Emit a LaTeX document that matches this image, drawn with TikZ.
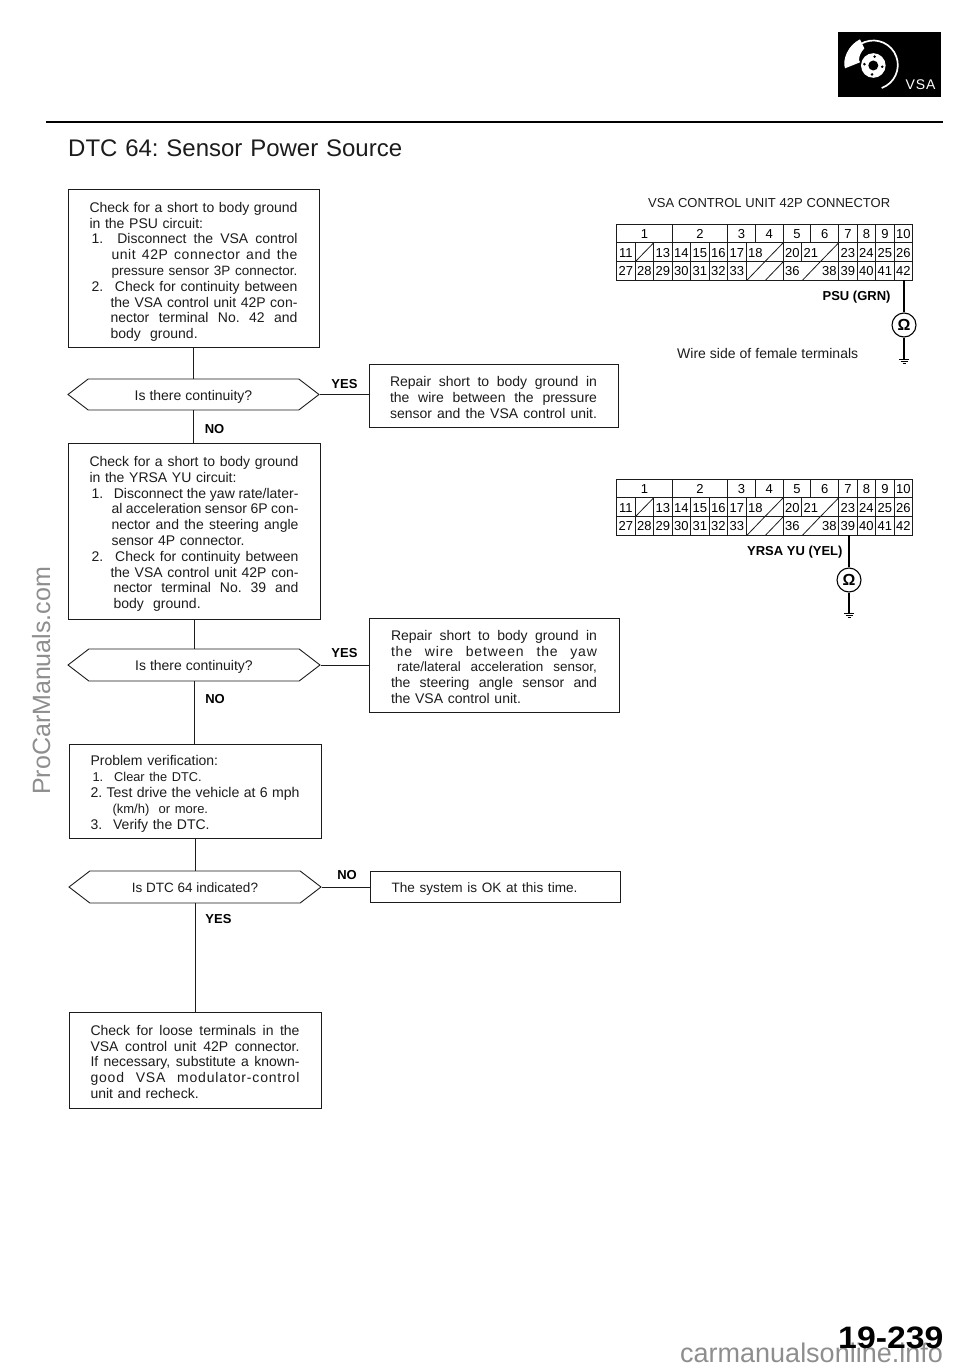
\documentclass[tikz,border=0pt]{standalone}
\usepackage{fontspec}
\setmainfont{Liberation Sans}
\newfontfamily\wideff[LetterSpace=6]{Liberation Sans}
\newfontfamily\wideg[LetterSpace=4]{Liberation Sans}
\usetikzlibrary{shapes.symbols}
\definecolor{ink}{HTML}{1C1C1C}
\definecolor{wm}{HTML}{8E8E8E}
\newdimen\bw
\newcommand\fl[2]{\hspace*{#1pt}\makebox[\dimexpr\bw-#1pt\relax][s]{\spaceskip=.278em plus 3em minus .1em\relax\xspaceskip=\spaceskip #2}}
\newcommand\st[2]{\bw=#2pt\rule{0pt}{\dimexpr10pt+2\dimexpr#1pt\relax\relax}}
\tikzset{
  x=1pt,y=-1pt,
  body/.style={font=\fontsize{14}{15.8}\selectfont,text=ink},
  boxnode/.style n args={3}{draw=ink,line width=1pt,rectangle,body,inner sep=0pt,align=left,
     minimum width=#1,minimum height=#2,text width=#3},
  hexnode/.style n args={2}{draw=ink,line width=.9pt,signal,signal to=west and east,signal pointer angle=75,
     body,inner sep=0pt,minimum width=#1,minimum height=#2},
  wire/.style={draw=ink,line width=.9pt},
  ans/.style={font=\fontsize{13}{15}\selectfont\bfseries,text=black,inner sep=0pt},
  captext/.style={font=\fontsize{14}{15}\selectfont,text=ink,inner sep=0pt},
  cell/.style={font=\fontsize{13}{14}\selectfont,text=black,inner sep=0pt,text height=9.3pt,text depth=0pt},
  gridline/.style={draw=ink,line width=1pt},
  ohm/.style={draw=black,line width=1.1pt,circle,minimum size=24pt,inner sep=0pt,fill=white,font=\fontsize{16}{16}\selectfont\bfseries},
  lead/.style={draw=black,line width=1.1pt}
}
\newcommand\ctab[2]{%
  \def\ya{#2}%
  \pgfmathsetmacro\yb{#2+18.8}%
  \pgfmathsetmacro\yc{#2+37.8}%
  \pgfmathsetmacro\yd{#2+56}%
  \draw[gridline] (616.7,\ya) rectangle (912.7,\yd);
  \draw[gridline] (616.7,\yb) -- (912.7,\yb) (616.7,\yc) -- (912.7,\yc);
  \foreach \k in {3,6,7.5,9,10.5,12,13,14,15}
    \draw[gridline] ({616.7+18.5*\k},\ya) -- ({616.7+18.5*\k},\yb);
  \foreach \k in {1,2,3,4,5,6,7,9,10,12,13,14,15}
    \draw[gridline] ({616.7+18.5*\k},\yb) -- ({616.7+18.5*\k},\yc);
  \foreach \k in {1,2,3,4,5,6,7,9,12,13,14,15}
    \draw[gridline] ({616.7+18.5*\k},\yc) -- ({616.7+18.5*\k},\yd);
  \foreach \k in {1,8,11}
    \draw[gridline,line width=.8pt] ({616.7+18.5*\k},\yc) -- ({616.7+18.5*(\k+1)},\yb);
  \foreach \k in {7,8,10}
    \draw[gridline,line width=.8pt] ({616.7+18.5*\k+1},\yd) -- ({616.7+18.5*(\k+1)},\yc);
  \foreach \c/\l in {1.5/1,4.5/2,6.75/3,8.25/4,9.75/5,11.25/6,12.5/7,13.5/8,14.5/9,15.5/10}
    \node[cell] (#1-\l) at ({616.7+18.5*\c},{#2+9.5}) {\l};
  \foreach \c/\l in {0/11,2/13,3/14,4/15,5/16,6/17,7/18,9/20,10/21,12/23,13/24,14/25,15/26}
    \node[cell] (#1-\l) at ({616.7+18.5*(\c+.5)},{#2+28.5}) {\l};
  \foreach \c/\l in {0/27,1/28,2/29,3/30,4/31,5/32,6/33,9/36,11/38,12/39,13/40,14/41,15/42}
    \node[cell] (#1-\l) at ({616.7+18.5*(\c+.5)},{#2+47}) {\l};
}
\newcommand\gnd[1]{%
  \draw[lead,line width=.8pt] ([xshift=-5pt]#1) -- ([xshift=5pt]#1)
    ([xshift=-3.5pt,yshift=-2pt]#1) -- ([xshift=3.5pt,yshift=-2pt]#1)
    ([xshift=-1.5pt,yshift=-4pt]#1) -- ([xshift=1.5pt,yshift=-4pt]#1);
}
\begin{document}
\begin{tikzpicture}
\useasboundingbox[fill=white] (0,0) rectangle (960,1370);

% header icon
\node[fill=black,inner sep=0pt,minimum width=103pt,minimum height=65pt] (icon) at (889.3,64.5) {};
\draw[white,line width=1.7pt] (873.3,65) ++(70:24.5) arc[start angle=70,end angle=-157,radius=24.5];
\fill[white] (860,39.3) -- (864.3,48.3) .. controls (861,52) and (859,56) .. (859,60) -- (860,62.3) -- (845,68.3) .. controls (842,60) and (848,45) .. (860,39.3) -- cycle;
\fill[white] (873.3,65.5) circle (12.3);
\fill[black] (873.3,65.5) circle (5);
\foreach \a in {0,90,180,270} \fill[black] (873.3,65.5) ++(\a+8:9) circle (1.4);
\node[font=\fontsize{14}{14}\selectfont,text=white,inner sep=0pt] (vsa) at (920.5,85) {\wideff VSA};
\draw[draw=black,line width=1.6pt] (46,122) -- (943,122);

% title
\node[font=\fontsize{24}{28}\selectfont,text=ink,inner sep=0pt,anchor=base west] (title) at (68,157)
  {\bw=334pt\fl{0}{DTC 64: Sensor Power Source}};

% left flow
\node[boxnode={251pt}{158pt}{208pt}] (b1) at (193.5,268) {\st{4}{208}%
\fl{0}{Check for a short to body ground}\\
in the PSU circuit:\\
\fl{2}{1.\hspace{7pt} Disconnect the VSA control}\\
\fl{22}{\wideg unit 42P connector and the}\\
\fl{22}{\fontsize{13.5}{15.8}\selectfont pressure sensor 3P connector.}\\
\fl{2}{2.\hspace{7pt} Check for continuity between}\\
\fl{21}{the VSA control unit 42P con-}\\
\fl{21}{nector terminal No. 42 and}\\
\hspace*{21pt}body\ \ ground.};

\node[hexnode={251pt}{31pt}] (d1) at (193.5,394.5) {\rule{0pt}{14pt}Is there continuity?};

\node[boxnode={249pt}{63pt}{207pt}] (r1) at (493.5,395.5) {\st{2}{207}%
\fl{0}{Repair short to body ground in}\\
\fl{0}{the wire between the pressure}\\
\fl{0}{sensor and the VSA control unit.}};

\node[boxnode={252pt}{176pt}{209pt}] (b2) at (194,531) {\st{3}{209}%
\fl{0}{Check for a short to body ground}\\
in the YRSA YU circuit:\\
\fl{2}{1.\hspace{7pt} Disconnect the yaw rate/later-}\\
\fl{22}{al acceleration sensor 6P con-}\\
\fl{22}{nector and the steering angle}\\
\hspace*{22pt}sensor 4P connector.\\
\fl{2}{2.\hspace{7pt} Check for continuity between}\\
\fl{21}{the VSA control unit 42P con-}\\
\fl{24}{nector terminal No. 39 and}\\
\hspace*{24pt}body\ \ ground.};

\node[hexnode={252pt}{32pt}] (d2) at (194,665) {\rule{0pt}{13pt}Is there continuity?};

\node[boxnode={250pt}{94pt}{206pt}] (r2) at (494,665) {\st{2}{206}%
\fl{0}{Repair short to body ground in}\\
\fl{0}{\wideff the wire between the yaw}\\
\fl{6}{\fontsize{13.5}{15.8}\selectfont rate/lateral acceleration sensor,}\\
\fl{0}{the steering angle sensor and}\\
the VSA control unit.};

\node[boxnode={252pt}{94pt}{209pt}] (b3) at (195,791) {\st{3}{209}%
Problem verification:\\
{\fontsize{12.8}{15.8}\selectfont\hspace*{2pt}1.\hspace{11pt}Clear the DTC.}\\
\fl{0}{\fontsize{14.1}{15.8}\selectfont 2. Test drive the vehicle at 6 mph}\\
{\fontsize{13}{15.8}\selectfont\hspace*{22pt}(km/h)\ \ or more.}\\
3.\hspace{4pt} Verify the DTC.};

\node[hexnode={252pt}{32pt}] (d3) at (195,887) {\rule{0pt}{12pt}\fontsize{13.5}{15}\selectfont Is DTC 64 indicated?};

\node[boxnode={250pt}{31pt}{207pt}] (r3) at (495,886.5) {\st{2}{207}\fontsize{13.6}{15.8}\selectfont The system is OK at this time.};

\node[boxnode={252pt}{96pt}{209pt}] (b4) at (195,1060) {\st{2}{209}%
\fl{0}{Check for loose terminals in the}\\
\fl{0}{VSA control unit 42P connector.}\\
\fl{0}{If necessary, substitute a known-}\\
\fl{0}{\wideff good VSA modulator-control}\\
unit and recheck.};

% connectors
\draw[wire] (b1.south) -- (d1.north);
\draw[wire] (d1.south) -- (d1.south |- b2.north);
\draw[wire] (b2.south) -- (d2.north);
\draw[wire] (d2.south) -- (d2.south |- b3.north);
\draw[wire] (b3.south) -- (d3.north);
\draw[wire] (d3.south) -- (b4.north);
\draw[wire] (d1.east) -- (r1.west |- d1.east);
\draw[wire] (d2.east) -- (r2.west |- d2.east);
\draw[wire] (d3.east) -- (r3.west |- d3.east);

\node[ans] (y1) at (344.5,384) {YES};
\node[ans] (n1) at (214.5,429.5) {NO};
\node[ans] (y2) at (344.5,653) {YES};
\node[ans] (n2) at (215,699) {NO};
\node[ans] (n3) at (347,875) {NO};
\node[ans] (y3) at (218.5,919.5) {YES};

% connector diagrams
\node[captext,anchor=base west] (ct) at (648,207) {\makebox[242pt][s]{\fontsize{13}{15}\selectfont VSA CONTROL UNIT 42P CONNECTOR}};
\ctab{ta}{224}
\ctab{tb}{479}

\node[ans,anchor=east] (psu) at (890.7,297) {PSU (GRN)};
\node[ohm] (oa) at (904,325) {Ω};
\coordinate (pa) at (904,280);
\coordinate (ga) at (904,359.5);
\draw[lead] (pa) -- (oa.north);
\draw[lead] (oa.south) -- (ga);
\gnd{ga}
\node[captext,anchor=base west] (ws) at (677,358) {\makebox[181pt][s]{Wire side of female terminals}};

\node[ans,anchor=east] (yu) at (842.7,551.7) {YRSA YU (YEL)};
\node[ohm] (ob) at (849,580) {Ω};
\coordinate (pb) at (849,535);
\coordinate (gb) at (849,613);
\draw[lead] (pb) -- (ob.north);
\draw[lead] (ob.south) -- (gb);
\gnd{gb}

% watermarks and page number
\node[font=\fontsize{25}{25}\selectfont,text=wm,inner sep=0pt,anchor=base west,rotate=90] (wm1) at (50,795) {ProCarManuals.com};
\node[font=\fontsize{27}{27}\selectfont,text=wm,inner sep=0pt,anchor=base west] (wm2) at (680,1362) {carmanualsonline.info};
\node[font=\fontsize{31}{31}\selectfont\bfseries,text=black,inner sep=0pt,anchor=base west,xscale=1.09] (pg) at (838,1348) {19-239};
\end{tikzpicture}
\end{document}
